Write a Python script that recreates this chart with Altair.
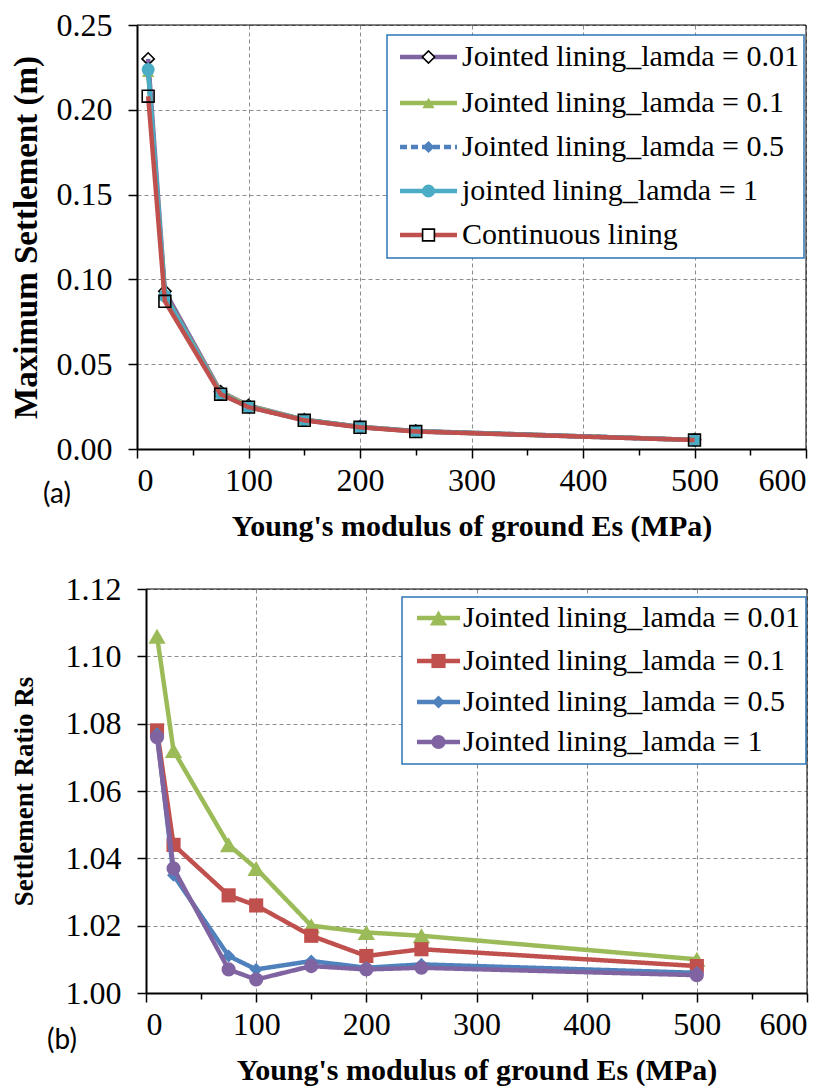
import altair as alt
import pandas as pd

FONT = "Liberation Serif"

# ---------------- data ----------------
es = [10, 25, 75, 100, 150, 200, 250, 500]

# (a) maximum settlement (m)
top_names = [
    "Jointed lining_lamda = 0.01",
    "Jointed lining_lamda = 0.1",
    "Jointed lining_lamda = 0.5",
    "jointed lining_lamda = 1",
    "Continuous lining",
]
settle_001 = [0.2300, 0.0930, 0.0338, 0.0256, 0.0173, 0.0131, 0.0106, 0.0054]
settle_01 = [0.2225, 0.0907, 0.0334, 0.0254, 0.0172, 0.0130, 0.0105, 0.0054]
settle_05 = [0.2232, 0.0900, 0.0327, 0.0249, 0.0171, 0.0129, 0.0105, 0.0054]
settle_1 = [0.2237, 0.0903, 0.0326, 0.0248, 0.0171, 0.0129, 0.0104, 0.0053]
settle_cont = [0.2080, 0.0871, 0.0323, 0.0247, 0.0169, 0.0128, 0.0103, 0.0053]
top_values = [settle_001, settle_01, settle_05, settle_1, settle_cont]

# (b) settlement ratio Rs
bot_names = [
    "Jointed lining_lamda = 0.01",
    "Jointed lining_lamda = 0.1",
    "Jointed lining_lamda = 0.5",
    "Jointed lining_lamda = 1",
]
ratio_001 = [1.106, 1.072, 1.044, 1.037, 1.020, 1.018, 1.017, 1.010]
ratio_01 = [1.078, 1.044, 1.029, 1.026, 1.017, 1.011, 1.013, 1.008]
ratio_05 = [1.077, 1.035, 1.011, 1.007, 1.0095, 1.0075, 1.0085, 1.006]
ratio_1 = [1.076, 1.037, 1.007, 1.004, 1.008, 1.007, 1.0075, 1.0053]
bot_values = [ratio_001, ratio_01, ratio_05, ratio_1]

# ---------------- styles ----------------
PURPLE, GREEN, BLUE, CYAN, RED = "#8064A2", "#9BBB59", "#4F81BD", "#4BACC6", "#C0504D"

top_styles = [
    dict(color=PURPLE, shape="diamond", filled=False, size=150, dash=[1, 0]),
    dict(color=GREEN, shape="triangle-up", filled=True, size=150, dash=[1, 0]),
    dict(color=BLUE, shape="diamond", filled=True, size=150, dash=[10, 5]),
    dict(color=CYAN, shape="circle", filled=True, size=170, dash=[1, 0]),
    dict(color=RED, shape="square", filled=False, size=140, dash=[1, 0]),
]
bot_styles = [
    dict(color=GREEN, shape="triangle-up", filled=True, size=300, dash=[1, 0]),
    dict(color=RED, shape="square", filled=True, size=200, dash=[1, 0]),
    dict(color=BLUE, shape="diamond", filled=True, size=170, dash=[1, 0]),
    dict(color=PURPLE, shape="circle", filled=True, size=200, dash=[1, 0]),
]

MAJOR = "datum.value % 100 === 0"


def x_enc(title, width, inset):
    return alt.X(
        "Es:Q",
        scale=alt.Scale(domain=[0, 600], nice=False, zero=True, range=[inset, width]),
        axis=alt.Axis(
            values=list(range(0, 601, 50)),
            labelExpr=f"{MAJOR} ? datum.label : ''",
            tickSize={"condition": {"test": MAJOR, "value": 9}, "value": 6},
            gridOpacity={"condition": {"test": MAJOR, "value": 1}, "value": 0},
            labelPadding=7,
            title=title,
            titlePadding=15,
            titleFontSize=30,
        ),
    )


def y_enc(domain, values, title, title_size, title_pad, inset):
    return alt.Y(
        "v:Q",
        scale=alt.Scale(domain=domain, nice=False, zero=False),
        axis=alt.Axis(
            values=values,
            format=".2f",
            title=title,
            titleFontSize=title_size,
            titlePadding=title_pad,
            tickSize=9,
            labelPadding=16,
            offset=-inset,
        ),
    )


def marker(st, xe, ye, df):
    if st["filled"]:
        m = alt.Chart(df).mark_point(
            shape=st["shape"], filled=True, size=st["size"], color=st["color"], opacity=1
        )
    else:
        m = alt.Chart(df).mark_point(
            shape=st["shape"], filled=False, size=st["size"], stroke="black",
            strokeWidth=1.6, opacity=1
        )
    return m.encode(x=xe, y=ye)


def build_panel(names, values, styles, ydom, yvals, ytitle, ytsize, ytpad,
                width, height, inset, leg_box, leg_rows, leg_line, leg_text_x, tag, tag_pos):
    xe = x_enc("Young's modulus of ground Es (MPa)", width, inset)
    ye = y_enc(ydom, yvals, ytitle, ytsize, ytpad, inset)
    layers = []
    for name, vals, st in zip(names, values, styles):
        df = pd.DataFrame({"Es": es, "v": vals, "series": name})
        line = alt.Chart(df).mark_line(
            color=st["color"], strokeWidth=4.5, strokeDash=st["dash"]
        ).encode(x=xe, y=ye)
        layers += [line, marker(st, xe, ye, df)]

    one = pd.DataFrame({"k": [0]})
    # frame (top and right border of the plot area)
    layers.append(
        alt.Chart(one).mark_rule(color="black", strokeWidth=1).encode(
            x=alt.datum(600), y=alt.datum(ydom[0]), y2=alt.datum(ydom[1])
        )
    )
    layers.append(
        alt.Chart(one).mark_rule(color="black", strokeWidth=1).encode(
            x=alt.datum(0), x2=alt.datum(600), y=alt.datum(ydom[1])
        )
    )
    # legend box
    layers.append(
        alt.Chart(one).mark_rect(fill="white", stroke="#2E75B6", strokeWidth=1.5).encode(
            x=alt.value(leg_box[0]), x2=alt.value(leg_box[1]),
            y=alt.value(leg_box[2]), y2=alt.value(leg_box[3]),
        )
    )
    mx = (leg_line[0] + leg_line[1]) / 2
    for name, st, ry in zip(names, styles, leg_rows):
        layers.append(
            alt.Chart(one).mark_rule(color=st["color"], strokeWidth=4.5,
                                     strokeDash=[7, 4] if st["dash"][1] else [1, 0]).encode(
                x=alt.value(leg_line[0]), x2=alt.value(leg_line[1]), y=alt.value(ry)
            )
        )
        if st["filled"]:
            pm = alt.Chart(one).mark_point(shape=st["shape"], filled=True, size=st["size"],
                                           color=st["color"], opacity=1)
        else:
            pm = alt.Chart(one).mark_point(shape=st["shape"], filled=True, size=st["size"],
                                           fill="white", stroke="black", strokeWidth=1.6, opacity=1)
        layers.append(pm.encode(x=alt.value(mx), y=alt.value(ry)))
        layers.append(
            alt.Chart(pd.DataFrame({"label": [name]})).mark_text(
                align="left", baseline="middle", font=FONT, fontSize=30, color="black"
            ).encode(x=alt.value(leg_text_x), y=alt.value(ry), text="label:N")
        )
    # panel tag (a)/(b)
    layers.append(
        alt.Chart(pd.DataFrame({"t": [tag]})).mark_text(
            align="center", baseline="middle", font="Lato", fontSize=28, color="black"
        ).encode(x=alt.value(tag_pos[0]), y=alt.value(tag_pos[1]), text="t:N")
    )
    return alt.layer(*layers).properties(
        width=width, height=height, view=alt.ViewBackground(stroke="transparent")
    )


top = build_panel(
    top_names, top_values, top_styles, [0, 0.25], [0, 0.05, 0.10, 0.15, 0.20, 0.25],
    "Maximum Settlement (m)", 33, 13, 669, 424, 0,
    leg_box=(250, 667, 10, 233), leg_rows=[32, 78, 122, 166, 210],
    leg_line=(263, 320), leg_text_x=325, tag="(a)", tag_pos=(-80, 470),
)
bottom = build_panel(
    bot_names, bot_values, bot_styles, [1.0, 1.12],
    [1.00, 1.02, 1.04, 1.06, 1.08, 1.10, 1.12],
    "Settlement Ratio Rs", 27, 27, 670, 404, 9,
    leg_box=(265, 669, 8, 175), leg_rows=[29, 72, 113, 153],
    leg_line=(280, 323), leg_text_x=326, tag="(b)", tag_pos=(-75, 452),
)

chart = (
    alt.vconcat(top, bottom, spacing=30)
    .properties(padding={"left": 1, "top": 0, "right": 0, "bottom": 0})
    .configure_axis(
        labelFont=FONT, labelFontSize=32, labelColor="black",
        titleFont=FONT, titleFontWeight="bold", titleColor="black",
        domainColor="black", domainWidth=2, tickColor="black", tickWidth=1.5,
        gridColor="#8c8c8c", gridDash=[4, 3], gridWidth=1,
    )
)

chart.save("out.html", embed_options={"renderer": "svg", "actions": False})
